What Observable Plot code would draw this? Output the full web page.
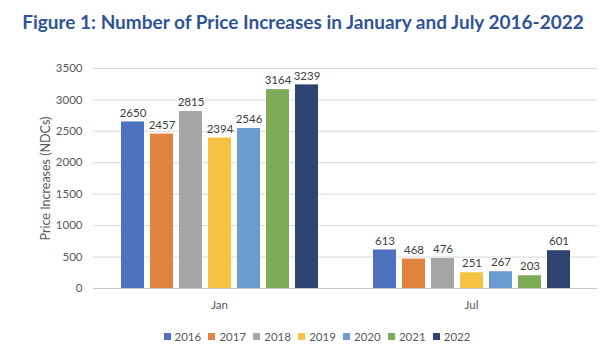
<!DOCTYPE html>
<html>
<head>
<meta charset="utf-8">
<script src="https://cdn.jsdelivr.net/npm/d3@7"></script>
<script src="https://cdn.jsdelivr.net/npm/@observablehq/plot@0.6"></script>
<style>
  html, body { margin: 0; padding: 0; background: #fff; }
  #wrap { width: 606px; height: 352px; position: relative; overflow: hidden; font-family: Lato, "Liberation Sans", sans-serif; }
  #title { height: 44px; line-height: 44px; text-align: center; font-weight: 700; font-size: 19px; color: #2f5496; font-family: Lato, sans-serif; }
  #legend { height: 32px; display: flex; justify-content: center; align-items: center; font-size: 11.5px; color: #595959; padding-left: 28px; box-sizing: border-box; }
  .item { display: flex; align-items: center; margin: 0 3.6px; }
  .sw { width: 7px; height: 7px; margin-right: 4px; }
</style>
</head>
<body>
<div id="wrap">
  <div id="title"></div>
  <div id="chart"></div>
  <div id="legend"></div>
</div>
<script>
const titleText = "Figure 1: Number of Price Increases in January and July 2016-2022";
const months = ["Jan", "Jul"];
const years = ["2016", "2017", "2018", "2019", "2020", "2021", "2022"];
const janValues = [2650, 2457, 2815, 2394, 2546, 3164, 3239];
const julValues = [613, 468, 476, 251, 267, 203, 601];
const yTicks = [0, 500, 1000, 1500, 2000, 2500, 3000, 3500];
const colors = ["#4e72bf", "#e0833f", "#a5a5a5", "#f5c242", "#6a9bd1", "#7eab55", "#2d4370"];
const yLabel = "Price Increases (NDCs)";

const data = [];
years.forEach((y, i) => data.push({month: "Jan", year: y, value: janValues[i]}));
years.forEach((y, i) => data.push({month: "Jul", year: y, value: julValues[i]}));

document.getElementById("title").textContent = titleText;

const chart = Plot.plot({
  width: 606,
  height: 276,
  marginLeft: 93,
  marginRight: 9,
  marginTop: 24,
  marginBottom: 32,
  style: {fontFamily: "Lato, 'Liberation Sans', sans-serif", fontSize: "11.5px", color: "#595959", background: "#fff"},
  fx: {domain: months, padding: 0, label: null},
  x: {domain: years, paddingInner: 0.21, paddingOuter: 0.85, axis: null},
  y: {domain: [0, 3500]},
  color: {domain: years, range: colors},
  marks: [
    Plot.gridY(yTicks, {stroke: "#d9d9d9", strokeOpacity: 1}),
    Plot.axisY(yTicks, {tickSize: 0, tickPadding: 11, tickFormat: d => String(d), label: yLabel, labelAnchor: "center", labelOffset: 52, labelArrow: "none", fill: "#595959"}),
    Plot.axisFx({anchor: "bottom", tickSize: 0, tickPadding: 12, label: null, fill: "#595959"}),
    Plot.barY(data, {fx: "month", x: "year", y: "value", fill: "year"}),
    Plot.text(data, {fx: "month", x: "year", y: "value", text: d => String(d.value), dy: -9, fill: "#404040"}),
    Plot.ruleY([0], {stroke: "#c8c8c8"})
  ]
});
document.getElementById("chart").appendChild(chart);
chart.querySelectorAll("text").forEach(t => {
  if (t.textContent === yLabel) t.setAttribute("font-size", "12.5");
});

const legend = document.getElementById("legend");
years.forEach((y, i) => {
  const it = document.createElement("div");
  it.className = "item";
  const sw = document.createElement("div");
  sw.className = "sw";
  sw.style.background = colors[i];
  const t = document.createElement("span");
  t.textContent = y;
  it.appendChild(sw);
  it.appendChild(t);
  legend.appendChild(it);
});
</script>
</body>
</html>
